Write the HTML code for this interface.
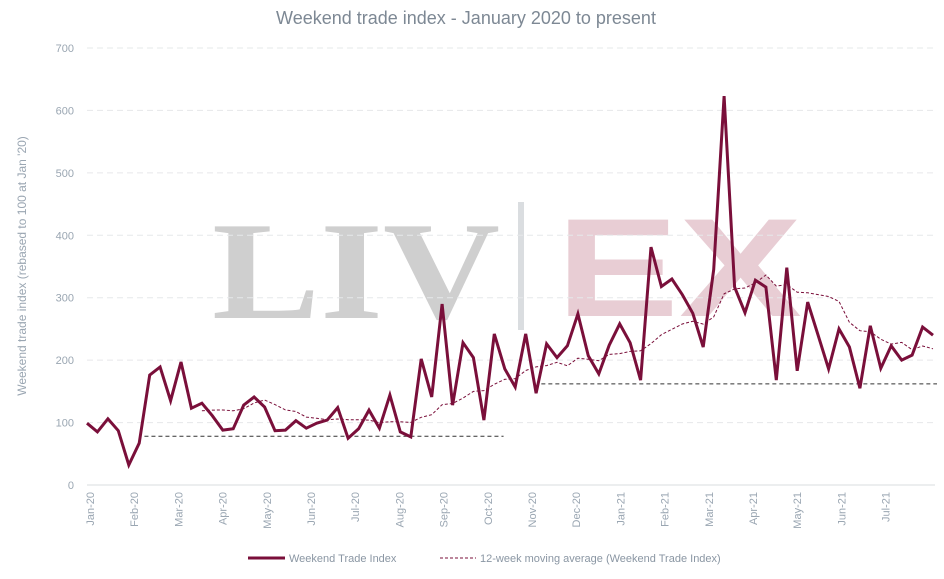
<!DOCTYPE html>
<html><head><meta charset="utf-8"><style>
body{margin:0;background:#fff;font-family:"Liberation Sans",sans-serif}
</style></head><body>
<svg width="944" height="574" xmlns="http://www.w3.org/2000/svg" id="c">
<text x="466" y="24" text-anchor="middle" font-size="18" fill="#7d8894">Weekend trade index - January 2020 to present</text>
<g>
<text x="212" y="318" font-family="Liberation Serif" font-weight="bold" font-size="140" fill="#cfcfcf" textLength="288" lengthAdjust="spacingAndGlyphs">LIV</text>
<rect x="518" y="202" width="6" height="128" fill="#dadde0"/>
<text x="556" y="316" font-family="Liberation Sans" font-weight="bold" font-size="140" fill="#e8cdd4" textLength="246" lengthAdjust="spacingAndGlyphs">EX</text>
</g>
<text transform="translate(26,266) rotate(-90)" text-anchor="middle" font-size="12" fill="#9aa6b2">Weekend trade index (rebased to 100 at Jan '20)</text>
<g id="grid"></g><g id="marks"></g>
<g>
<line x1="248" y1="558" x2="285" y2="558" stroke="#7a0f3a" stroke-width="3"/>
<text x="289" y="562" font-size="11" fill="#8a96a3">Weekend Trade Index</text>
<line x1="440" y1="558" x2="476" y2="558" stroke="#7a0f3a" stroke-width="1" stroke-dasharray="3,2"/>
<text x="480" y="562" font-size="11" fill="#8a96a3">12-week moving average (Weekend Trade Index)</text>
</g>
</svg>
<script>
const values=[99,85,106,87,32,67,176,189,135,197,123,131,111,88,90,128,141,125,87,88,103,91,99,104,124,75,90,120,91,144,85,77,202,141,
290,128,228,204,104,242,186,157,242,147,226,204,223,274,207,178,224,258,228,168,381,318,330,305,
275,221,345,623,317,276,328,317,168,348,183,293,240,186,250,221,155,255,187,223,200,208,253,240];
const months=["Jan-20","Feb-20","Mar-20","Apr-20","May-20","Jun-20","Jul-20","Aug-20","Sep-20","Oct-20","Nov-20","Dec-20","Jan-21","Feb-21","Mar-21","Apr-21","May-21","Jun-21","Jul-21"];
const yTicks=[0,100,200,300,400,500,600,700];
const refStart=[5.5,43.5];const refEnd=[39.5,81];const refVal=[78,162];
const NS="http://www.w3.org/2000/svg";
const X0=87,X1=933,Y0=485,YS=437/700;
const x=i=>X0+i*(X1-X0)/(values.length-1);
const y=v=>Y0-v*YS;
const mx=m=>90+m*44.2;
function mk(t,a,p){const e=document.createElementNS(NS,t);for(const k in a)e.setAttribute(k,a[k]);(p||document.getElementById('marks')).appendChild(e);return e;}
const g=document.getElementById('grid');
yTicks.forEach(v=>{
 const l=mk('line',{x1:87,x2:935,y1:y(v),y2:y(v),stroke:v?'#e6e8ea':'#d8dcdf','stroke-dasharray':v?'6,4':'none'},g);
 
 
 const t=mk('text',{x:74,y:y(v)+4,'text-anchor':'end','font-size':11,fill:'#9aa6b2'},g);t.textContent=v;
 
 
});
months.forEach((m,i)=>{
 const t=mk('text',{transform:`translate(${mx(i)+4},492) rotate(-90)`,'text-anchor':'end','font-size':11,fill:'#9aa6b2'},g);t.textContent=m;
 
 
});
for(let k=0;k<refVal.length;k++){
 const l=mk('line',{x1:x(refStart[k]),x2:x(refEnd[k])+4,y1:y(refVal[k]),y2:y(refVal[k]),stroke:'#333','stroke-width':1,'stroke-dasharray':'4,3'});
 
 
}
const ma=[];for(let i=11;i<values.length;i++){let s=0;for(let j=i-11;j<=i;j++)s+=values[j];ma.push([i,s/12]);}
const p2=mk('path',{d:ma.map((p,k)=>(k?'L':'M')+x(p[0]).toFixed(1)+','+y(p[1]).toFixed(1)).join(''),fill:'none',stroke:'#7a0f3a','stroke-width':1,'stroke-dasharray':'3,2'});


const p=mk('path',{d:values.map((v,i)=>(i?'L':'M')+x(i).toFixed(1)+','+y(v).toFixed(1)).join(''),fill:'none',stroke:'#7a0f3a','stroke-width':3,'stroke-linejoin':'miter'});


</script>
</body></html>
